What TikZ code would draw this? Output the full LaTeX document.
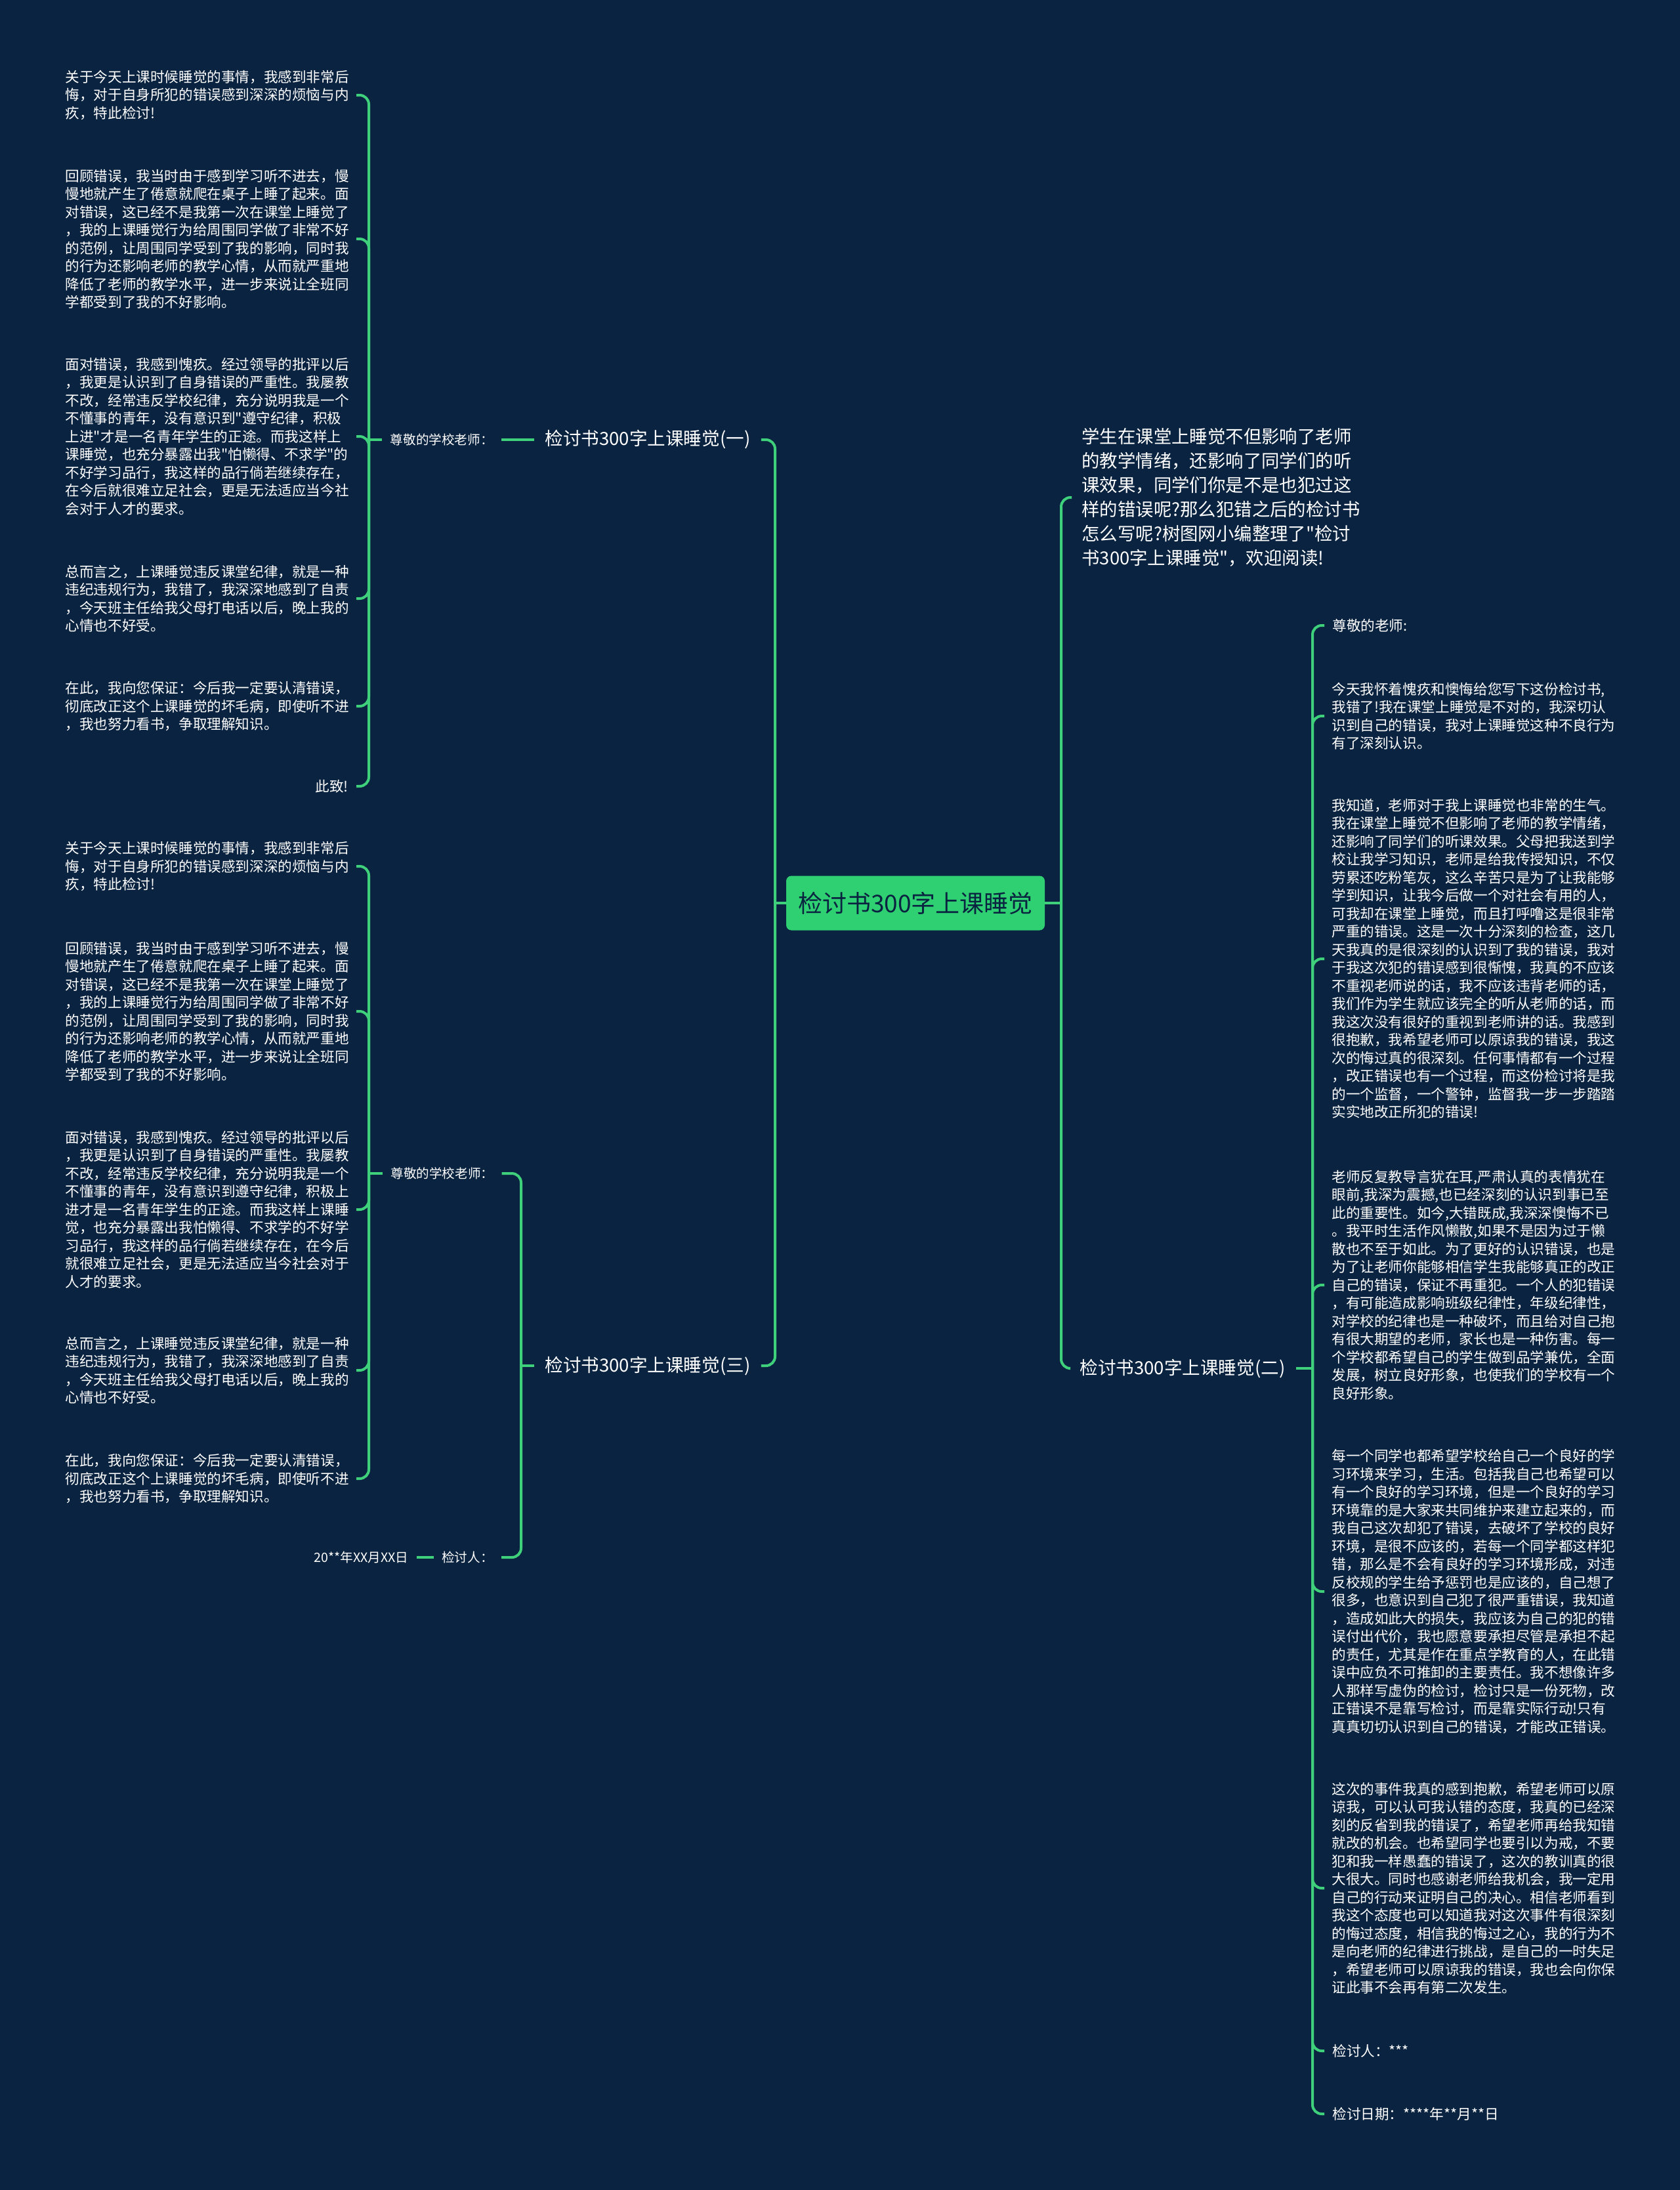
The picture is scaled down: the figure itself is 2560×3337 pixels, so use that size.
\documentclass[tikz,border=0pt]{standalone}
\usepackage{fontspec}
\setmainfont{Noto Sans CJK SC}[Ligatures=TeXOff]
\usetikzlibrary{positioning}
\definecolor{navy}{RGB}{10,35,64}
\definecolor{leafline}{RGB}{62,208,122}
\definecolor{rootfill}{RGB}{46,208,114}
\newcommand{\leaffont}{\fontsize{10.8}{13.75}\selectfont}
\newcommand{\headfont}{\fontsize{9.8}{12}\selectfont}
\newcommand{\branchfont}{\fontsize{13.8}{16}\selectfont}
\newcommand{\introfont}{\fontsize{13.7}{18.5}\selectfont}
\newcommand{\rootfont}{\fontsize{18.5}{22}\selectfont}

\begin{document}
\begin{tikzpicture}[
  x=0.5pt, y=-0.5pt,
  link/.style={draw=leafline, line width=2pt, rounded corners=7pt},
  rootbox/.style={
    fill=rootfill,
    rounded corners=4pt,
    text=navy,
    font=\rootfont,
    minimum width=197pt,
    minimum height=41.5pt,
    inner sep=0pt,
  },
  branchtxt/.style={text=white, font=\branchfont, inner xsep=8pt, inner ysep=3pt},
  headtxt/.style={text=white, font=\headfont, inner xsep=6pt, inner ysep=2pt},
  introtxt/.style={text=white, font=\introfont, align=left, inner xsep=7.5pt},
  paratxt/.style={
    text=white,
    font=\leaffont,
    align=left,
    text width=216pt,
    inner xsep=5.5pt,
    inner ysep=2pt,
  },
]

\fill[navy] (0,0) rectangle (2560,3337);
\useasboundingbox (0,0) rectangle (2560,3337);

% ---- the root and its four branches ---------------------------------------
\node[rootbox] (root) at (1395,1376) {检讨书300字上课睡觉};

\node[branchtxt, anchor=west] (b1) at (814,670) {检讨书300字上课睡觉(一)};
\node[branchtxt, anchor=west] (b3) at (814,2081) {检讨书300字上课睡觉(三)};
\node[introtxt, anchor=west] (intro) at (1633,758)
  {学生在课堂上睡觉不但影响了老师\\
   的教学情绪，还影响了同学们的听\\
   课效果，同学们你是不是也犯过这\\
   样的错误呢?那么犯错之后的检讨书\\
   怎么写呢?树图网小编整理了"检讨\\
   书300字上课睡觉"，欢迎阅读!};
\node[branchtxt, anchor=west] (b2) at (1629,2085) {检讨书300字上课睡觉(二)};

\coordinate (hubL) at (1181,1376);
\coordinate (hubR) at (1617,1376);
\draw[link] (root.west) -- (hubL);
\draw[link] (hubL) |- (b1.east);
\draw[link] (hubL) |- (b3.east);
\draw[link] (root.east) -- (hubR);
\draw[link] (hubR) |- (intro.west);
\draw[link] (hubR) |- (b2.west);

% ---- branch one: the letter, upper left -----------------------------------
\node[headtxt, left=25pt of b1] (t1) {尊敬的学校老师：};
\draw[link] (b1.west) -- (t1.east);

\node[paratxt, anchor=east] (p1) at (543,145)
  {关于今天上课时候睡觉的事情，我感到非常后\\
   悔，对于自身所犯的错误感到深深的烦恼与内\\
   疚，特此检讨!};
\node[paratxt, anchor=east] (p2) at (543,364)
  {回顾错误，我当时由于感到学习听不进去，慢\\
   慢地就产生了倦意就爬在桌子上睡了起来。面\\
   对错误，这已经不是我第一次在课堂上睡觉了\\
   ，我的上课睡觉行为给周围同学做了非常不好\\
   的范例，让周围同学受到了我的影响，同时我\\
   的行为还影响老师的教学心情，从而就严重地\\
   降低了老师的教学水平，进一步来说让全班同\\
   学都受到了我的不好影响。};
\node[paratxt, anchor=east] (p3) at (543,665)
  {面对错误，我感到愧疚。经过领导的批评以后\\
   ，我更是认识到了自身错误的严重性。我屡教\\
   不改，经常违反学校纪律，充分说明我是一个\\
   不懂事的青年，没有意识到"遵守纪律，积极\\
   上进"才是一名青年学生的正途。而我这样上\\
   课睡觉，也充分暴露出我"怕懒得、不求学"的\\
   不好学习品行，我这样的品行倘若继续存在，\\
   在今后就很难立足社会，更是无法适应当今社\\
   会对于人才的要求。};
\node[paratxt, anchor=east] (p4) at (543,912)
  {总而言之，上课睡觉违反课堂纪律，就是一种\\
   违纪违规行为，我错了，我深深地感到了自责\\
   ，今天班主任给我父母打电话以后，晚上我的\\
   心情也不好受。};
\node[paratxt, anchor=east] (p5) at (543,1076)
  {在此，我向您保证：今后我一定要认清错误，\\
   彻底改正这个上课睡觉的坏毛病，即使听不进\\
   ，我也努力看书，争取理解知识。};
\node[headtxt, font=\leaffont, anchor=east] (p6) at (543,1198) {此致!};

\coordinate (hubA) at (562,670);
\draw[link] (t1.west) -- (hubA);
\draw[link] (hubA) |- (p1.east);
\draw[link] (hubA) |- (p2.east);
\draw[link] (hubA) |- (p3.east);
\draw[link] (hubA) |- (p4.east);
\draw[link] (hubA) |- (p5.east);
\draw[link] (hubA) |- (p6.east);

% ---- branch three: the letter again, then the signature -------------------
\node[headtxt, anchor=west] (t3) at (583,1788) {尊敬的学校老师：};
\node[headtxt, anchor=east] (sig) at (764,2373) {检讨人：};
\node[headtxt, left=13pt of sig] (date) {20**年XX月XX日};
\draw[link] (sig.west) -- (date.east);

\coordinate (hubB) at (794,2081);
\draw[link] (b3.west) -- (hubB);
\draw[link] (hubB) |- (t3.east);
\draw[link] (hubB) |- (sig.east);

\node[paratxt, anchor=east] (q1) at (543,1320)
  {关于今天上课时候睡觉的事情，我感到非常后\\
   悔，对于自身所犯的错误感到深深的烦恼与内\\
   疚，特此检讨!};
\node[paratxt, anchor=east] (q2) at (543,1541)
  {回顾错误，我当时由于感到学习听不进去，慢\\
   慢地就产生了倦意就爬在桌子上睡了起来。面\\
   对错误，这已经不是我第一次在课堂上睡觉了\\
   ，我的上课睡觉行为给周围同学做了非常不好\\
   的范例，让周围同学受到了我的影响，同时我\\
   的行为还影响老师的教学心情，从而就严重地\\
   降低了老师的教学水平，进一步来说让全班同\\
   学都受到了我的不好影响。};
\node[paratxt, anchor=east] (q3) at (543,1843)
  {面对错误，我感到愧疚。经过领导的批评以后\\
   ，我更是认识到了自身错误的严重性。我屡教\\
   不改，经常违反学校纪律，充分说明我是一个\\
   不懂事的青年，没有意识到遵守纪律，积极上\\
   进才是一名青年学生的正途。而我这样上课睡\\
   觉，也充分暴露出我怕懒得、不求学的不好学\\
   习品行，我这样的品行倘若继续存在，在今后\\
   就很难立足社会，更是无法适应当今社会对于\\
   人才的要求。};
\node[paratxt, anchor=east] (q4) at (543,2088)
  {总而言之，上课睡觉违反课堂纪律，就是一种\\
   违纪违规行为，我错了，我深深地感到了自责\\
   ，今天班主任给我父母打电话以后，晚上我的\\
   心情也不好受。};
\node[paratxt, anchor=east] (q5) at (543,2253)
  {在此，我向您保证：今后我一定要认清错误，\\
   彻底改正这个上课睡觉的坏毛病，即使听不进\\
   ，我也努力看书，争取理解知识。};

\coordinate (hubC) at (562,1788);
\draw[link] (t3.west) -- (hubC);
\draw[link] (hubC) |- (q1.east);
\draw[link] (hubC) |- (q2.east);
\draw[link] (hubC) |- (q3.east);
\draw[link] (hubC) |- (q4.east);
\draw[link] (hubC) |- (q5.east);

% ---- branch two: the long letter on the right -----------------------------
\node[headtxt, font=\leaffont, anchor=west] (r0) at (2018,953) {尊敬的老师:};
\node[paratxt, anchor=west] (r1) at (2018,1091)
  {今天我怀着愧疚和懊悔给您写下这份检讨书,\\
   我错了!我在课堂上睡觉是不对的，我深切认\\
   识到自己的错误，我对上课睡觉这种不良行为\\
   有了深刻认识。};
\node[paratxt, anchor=west] (r2) at (2018,1461)
  {我知道，老师对于我上课睡觉也非常的生气。\\
   我在课堂上睡觉不但影响了老师的教学情绪，\\
   还影响了同学们的听课效果。父母把我送到学\\
   校让我学习知识，老师是给我传授知识，不仅\\
   劳累还吃粉笔灰，这么辛苦只是为了让我能够\\
   学到知识，让我今后做一个对社会有用的人，\\
   可我却在课堂上睡觉，而且打呼噜这是很非常\\
   严重的错误。这是一次十分深刻的检查，这几\\
   天我真的是很深刻的认识到了我的错误，我对\\
   于我这次犯的错误感到很惭愧，我真的不应该\\
   不重视老师说的话，我不应该违背老师的话，\\
   我们作为学生就应该完全的听从老师的话，而\\
   我这次没有很好的重视到老师讲的话。我感到\\
   很抱歉，我希望老师可以原谅我的错误，我这\\
   次的悔过真的很深刻。任何事情都有一个过程\\
   ，改正错误也有一个过程，而这份检讨将是我\\
   的一个监督，一个警钟，监督我一步一步踏踏\\
   实实地改正所犯的错误!};
\node[paratxt, anchor=west] (r3) at (2018,1958)
  {老师反复教导言犹在耳,严肃认真的表情犹在\\
   眼前,我深为震撼,也已经深刻的认识到事已至\\
   此的重要性。如今,大错既成,我深深懊悔不已\\
   。我平时生活作风懒散,如果不是因为过于懒\\
   散也不至于如此。为了更好的认识错误，也是\\
   为了让老师你能够相信学生我能够真正的改正\\
   自己的错误，保证不再重犯。一个人的犯错误\\
   ，有可能造成影响班级纪律性，年级纪律性，\\
   对学校的纪律也是一种破坏，而且给对自己抱\\
   有很大期望的老师，家长也是一种伤害。每一\\
   个学校都希望自己的学生做到品学兼优，全面\\
   发展，树立良好形象，也使我们的学校有一个\\
   良好形象。};
\node[paratxt, anchor=west] (r4) at (2018,2425)
  {每一个同学也都希望学校给自己一个良好的学\\
   习环境来学习，生活。包括我自己也希望可以\\
   有一个良好的学习环境，但是一个良好的学习\\
   环境靠的是大家来共同维护来建立起来的，而\\
   我自己这次却犯了错误，去破坏了学校的良好\\
   环境，是很不应该的，若每一个同学都这样犯\\
   错，那么是不会有良好的学习环境形成，对违\\
   反校规的学生给予惩罚也是应该的，自己想了\\
   很多，也意识到自己犯了很严重错误，我知道\\
   ，造成如此大的损失，我应该为自己的犯的错\\
   误付出代价，我也愿意要承担尽管是承担不起\\
   的责任，尤其是作在重点学教育的人，在此错\\
   误中应负不可推卸的主要责任。我不想像许多\\
   人那样写虚伪的检讨，检讨只是一份死物，改\\
   正错误不是靠写检讨，而是靠实际行动!只有\\
   真真切切认识到自己的错误，才能改正错误。};
\node[paratxt, anchor=west] (r5) at (2018,2877)
  {这次的事件我真的感到抱歉，希望老师可以原\\
   谅我，可以认可我认错的态度，我真的已经深\\
   刻的反省到我的错误了，希望老师再给我知错\\
   就改的机会。也希望同学也要引以为戒，不要\\
   犯和我一样愚蠢的错误了，这次的教训真的很\\
   大很大。同时也感谢老师给我机会，我一定用\\
   自己的行动来证明自己的决心。相信老师看到\\
   我这个态度也可以知道我对这次事件有很深刻\\
   的悔过态度，相信我的悔过之心，我的行为不\\
   是向老师的纪律进行挑战，是自己的一时失足\\
   ，希望老师可以原谅我的错误，我也会向你保\\
   证此事不会再有第二次发生。};
\node[headtxt, font=\leaffont, anchor=west] (r6) at (2018,3125) {检讨人：***};
\node[headtxt, font=\leaffont, anchor=west] (r7) at (2018,3221) {检讨日期：****年**月**日};

\coordinate (hubD) at (2000,2085);
\draw[link] (b2.east) -- (hubD);
\draw[link] (hubD) |- (r0.west);
\draw[link] (hubD) |- (r1.west);
\draw[link] (hubD) |- (r2.west);
\draw[link] (hubD) |- (r3.west);
\draw[link] (hubD) |- (r4.west);
\draw[link] (hubD) |- (r5.west);
\draw[link] (hubD) |- (r6.west);
\draw[link] (hubD) |- (r7.west);

\end{tikzpicture}
\end{document}
